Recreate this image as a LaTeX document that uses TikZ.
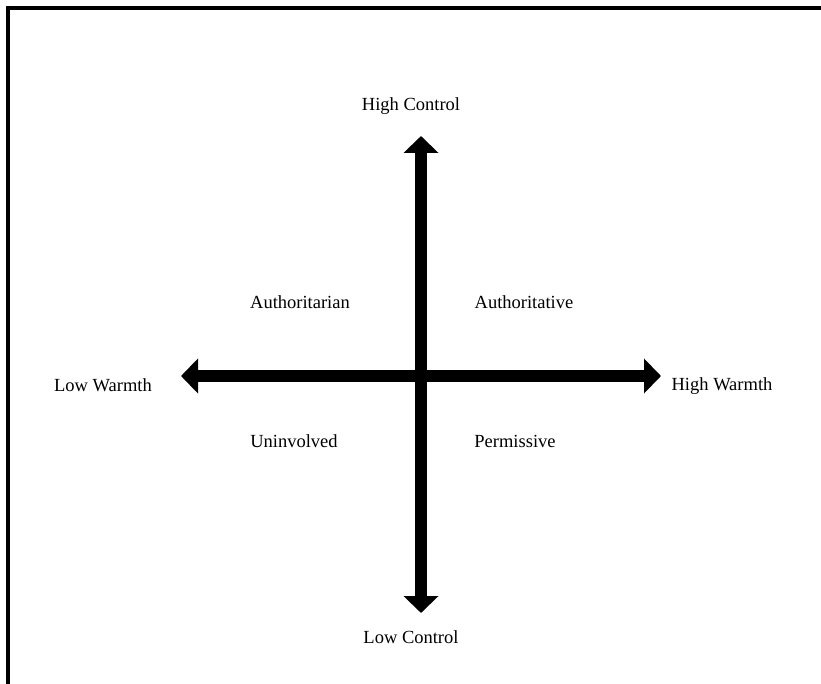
\documentclass[tikz,border=0pt]{standalone}
\usepackage{fontspec}
\setmainfont{Liberation Serif}
\usetikzlibrary{arrows.meta}
\begin{document}
\begin{tikzpicture}[x=1pt,y=-1pt,
  lbl/.style={font=\fontsize{18.5}{22}\selectfont, inner sep=0pt, anchor=center},
  axis/.style={line width=11.5pt, {Triangle[width=34pt,length=17pt]}-{Triangle[width=34pt,length=17pt]}}]
\useasboundingbox (0,0) rectangle (821,684);
\draw[line width=3.3pt] (8,684) -- (8,8) -- (821,8);
\coordinate (top) at (421,136);
\coordinate (bot) at (421,613);
\coordinate (lft) at (181,376);
\coordinate (rgt) at (661,376);
\draw[axis] (top) -- (bot);
\draw[axis] (lft) -- (rgt);
\node[lbl] (hc) at (411,106) {High Control};
\node[lbl] (lc) at (411,637) {Low Control};
\node[lbl] (lw) at (103,385) {Low Warmth};
\node[lbl] (hw) at (722,386) {High Warmth};
\node[lbl] (a1) at (300,302) {Authoritarian};
\node[lbl] (a2) at (524,302) {Authoritative};
\node[lbl] (un) at (294,441) {Uninvolved};
\node[lbl] (pe) at (515,441) {Permissive};
\end{tikzpicture}
\end{document}
